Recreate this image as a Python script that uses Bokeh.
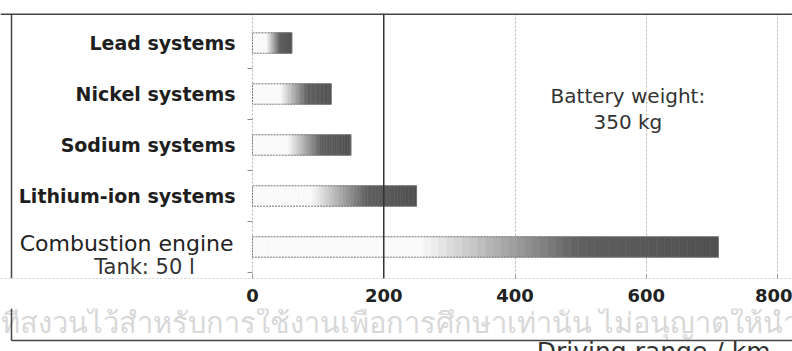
from bokeh.plotting import figure
from bokeh.layouts import column
from bokeh.models import Range1d, FixedTicker, Label, Span, ColumnDataSource
from bokeh.core.properties import value
from bokeh.embed import file_html
from bokeh.resources import INLINE

# ---- data ----
categories = ["Lead systems", "Nickel systems", "Sodium systems",
              "Lithium-ion systems", "Combustion engine"]
ranges_km = [60, 120, 150, 250, 710]
x_ticks = [0, 200, 400, 600, 800]
sub_label = "Tank: 50 l"
note_text = "Battery weight:\n350 kg"
x_title = "Driving range / km"
watermark = "ที่สงวนไว้สำหรับการใช้งานเพื่อการศึกษาเท่านั้น ไม่อนุญาตให้นำไปใช้"

# ---- layout (pixels) ----
W = 792
H1, H2 = 308, 43
zero_px, end_px = 252, 777          # canvas x of first / last tick
box_left_px, box_top_px = 11, 13
row_top_px, row_h = 17, 50.6
frame_bottom_px = 276
scale = (end_px - zero_px) / (x_ticks[-1] - x_ticks[0])
x_start = x_ticks[0] - zero_px / scale
x_end = x_ticks[-1] + (W - end_px) / scale
x_box = x_ticks[0] - (zero_px - box_left_px) / scale
n = len(categories)
y_top = -(row_top_px - box_top_px) / row_h
y_bottom = (frame_bottom_px - row_top_px) / row_h

p = figure(width=W, height=H1, output_backend="svg", toolbar_location=None,
           x_range=Range1d(x_start, x_end), y_range=Range1d(y_bottom, y_top),
           y_axis_type=None, min_border_left=0, min_border_right=0,
           min_border_top=box_top_px, min_border_bottom=30)
p.outline_line_color = None
p.background_fill_color = "white"
p.border_fill_color = "white"

# ---- gradient bars (each bar split into shaded segments) ----
N = 60
t0, t1, light, dark = 0.36, 0.7, 250, 80
lefts, rights, ys, cols = [], [], [], []
for i, v in enumerate(ranges_km):
    for k in range(N):
        t = (k + 0.5) / N
        if t <= t0:
            g = light
        elif t >= t1:
            g = dark + (1 - t) / (1 - t1) * 15
        else:
            g = light - (light - dark - 15) * (t - t0) / (t1 - t0)
        g = int(round(g))
        lefts.append(v * k / N)
        rights.append(v * (k + 1) / N)
        ys.append(i + 0.5)
        cols.append("#%02x%02x%02x" % (g, g, g))
src = ColumnDataSource(dict(left=lefts, right=rights, y=ys, c=cols))
p.hbar(y="y", left="left", right="right", height=0.4, fill_color="c",
       line_color="c", line_width=0.6, source=src)

bar_src = ColumnDataSource(dict(y=[i + 0.5 for i in range(n)], right=ranges_km))
p.hbar(y="y", left=0, right="right", height=0.4, fill_alpha=0,
       line_color="#777777", line_width=1, line_dash="2 1", source=bar_src)

# ---- grid / axis ----
p.xgrid.ticker = FixedTicker(ticks=x_ticks)
p.xgrid.grid_line_color = "#b0b0b0"
p.xgrid.grid_line_dash = "2 2"
p.ygrid.grid_line_color = None
p.add_layout(Span(location=x_ticks[1], dimension="height",
                  line_color="#333333", line_width=1.5))
# outer box (top and left edges)
p.add_layout(Span(location=y_top, dimension="width",
                  line_color="#444444", line_width=3))
p.add_layout(Span(location=x_box, dimension="height",
                  line_color="#444444", line_width=1.5))
# small category ticks at row boundaries
bounds = list(range(1, n + 1))
p.segment(x0=[x_ticks[0]] * n, x1=[x_ticks[0] - 5 / scale] * n, y0=bounds,
          y1=bounds, line_color="#888888", line_width=1)

p.xaxis.ticker = FixedTicker(ticks=x_ticks)
p.xaxis.major_label_text_font = "DejaVu Sans"
p.xaxis.major_label_text_font_style = "bold"
p.xaxis.major_label_text_font_size = "18px"
p.xaxis.major_label_text_color = "#222222"
p.xaxis.axis_line_color = "#d0d0d0"
p.xaxis.axis_line_dash = "2 2"
p.xaxis.major_tick_in = 4
p.xaxis.major_tick_out = 0
p.xaxis.major_tick_line_color = "#999999"
p.xaxis.minor_tick_line_color = None
p.xaxis.major_label_standoff = 10

# ---- category labels ----
p.text(x=[0] * (n - 1), y=[i + 0.5 for i in range(n - 1)], text=categories[:-1],
       x_offset=-17, text_align="right", text_baseline="middle",
       text_font=value("DejaVu Sans"), text_font_style="bold",
       text_font_size="19px", text_color="#1e1e1e")
p.text(x=[0], y=[n - 0.57], text=[categories[-1]], x_offset=-19,
       text_align="right", text_baseline="middle",
       text_font=value("DejaVu Sans"), text_font_size="22px",
       text_color="#222222")
p.text(x=[0], y=[n - 0.1], text=[sub_label], x_offset=-108,
       text_align="center", text_baseline="middle",
       text_font=value("DejaVu Sans"), text_font_size="21px",
       text_color="#333333")

p.add_layout(Label(x=572, y=1.8, text=note_text, text_align="center",
                   text_baseline="middle", text_font="DejaVu Sans",
                   text_font_size="20px", text_color="#333333",
                   text_line_height=1.1))

# ---- bottom strip: watermark and axis title ----
q = figure(width=W, height=H2, output_backend="svg", toolbar_location=None,
           x_range=p.x_range, y_range=Range1d(0, H2),
           x_axis_type=None, y_axis_type=None, min_border=0)
q.outline_line_color = None
q.grid.visible = False
q.background_fill_color = "white"
q.border_fill_color = "white"

q.text(x=[x_start], y=[30], text=[watermark], text_align="left",
       text_baseline="middle", text_font=value("Noto Sans"),
       text_font_size="29px", text_color="#d8d8d8")
q.text(x=[x_ticks[-1]], y=[15], text=[x_title], x_offset=-7,
       text_align="right", text_baseline="top",
       text_font=value("DejaVu Sans"), text_font_size="25px",
       text_color="#333333")
# outer box (left and bottom edges)
q.segment(x0=[x_box], y0=[11], x1=[x_box], y1=[H2], line_color="#444444",
          line_width=1.5)
q.segment(x0=[x_box], y0=[11], x1=[x_end], y1=[11], line_color="#444444",
          line_width=1.5)

layout = column(p, q, spacing=0)
open("out.html", "w").write(file_html(layout, INLINE))
